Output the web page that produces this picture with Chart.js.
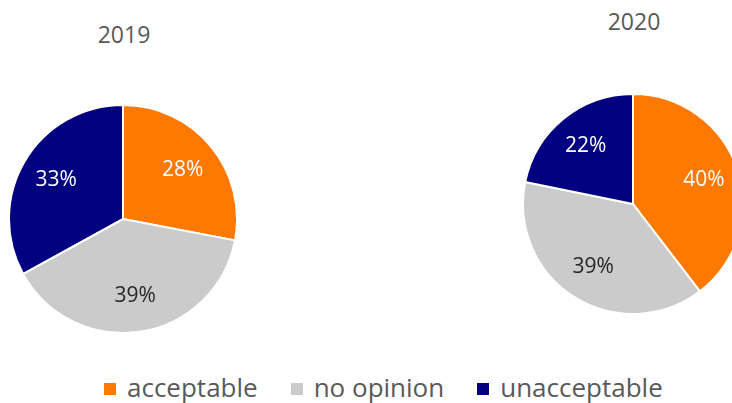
<!DOCTYPE html>
<html>
<head>
<meta charset="utf-8">
<script src="https://cdn.jsdelivr.net/npm/chart.js@4"></script>
<style>
  html, body { margin: 0; padding: 0; background: #fff; overflow: hidden; }
  body { width: 732px; height: 403px; position: relative; font-family: "Open Sans", sans-serif; }
  .title { position: absolute; width: 200px; text-align: center; font-size: 23px; color: #595959; }
  canvas { position: absolute; }
  #legend { position: absolute; left: 104px; top: 369px; display: flex; gap: 33px; font-size: 26px; color: #595959; white-space: nowrap; }
  #legend span.box { display: inline-block; width: 12px; height: 12px; margin-right: 11px; vertical-align: 2px; }
</style>
</head>
<body>
<div class="title" style="left:24px; top:18px;">2019</div>
<div class="title" style="left:534px; top:5px;">2020</div>
<canvas id="pie2019" width="230" height="230" style="left:8px; top:104px;"></canvas>
<canvas id="pie2020" width="222" height="222" style="left:522px; top:93px;"></canvas>
<div id="legend"></div>
<script>
// categories and shares (percent)
const categories = ['acceptable', 'no opinion', 'unacceptable'];
const colors = ['#FF7800', '#CBCBCB', '#000080'];
const labelColors = ['#FFFFFF', '#262626', '#FFFFFF'];
const values2019 = [28, 39, 33];
const values2020 = [40, 39, 22];

// draws "NN%" inside each slice, a bit past the middle of the radius
const sliceLabels = {
    id: 'sliceLabels',
    afterDatasetsDraw(chart) {
        const ctx = chart.ctx;
        const meta = chart.getDatasetMeta(0);
        const data = chart.data.datasets[0].data;
        ctx.save();
        ctx.font = '21px "Open Sans", sans-serif';
        ctx.textAlign = 'center';
        ctx.textBaseline = 'middle';
        meta.data.forEach((arc, i) => {
            const p = arc.getProps(['x', 'y', 'startAngle', 'endAngle', 'outerRadius'], true);
            const mid = (p.startAngle + p.endAngle) / 2;
            const r = p.outerRadius * 0.68;
            ctx.fillStyle = labelColors[i];
            ctx.fillText(data[i] + '%', p.x + Math.cos(mid) * r, p.y + Math.sin(mid) * r);
        });
        ctx.restore();
    }
};

function makePie(canvasId, values) {
    const canvas = document.getElementById(canvasId);
    return new Chart(canvas.getContext('2d'), {
        type: 'pie',
        data: {
            labels: categories,
            datasets: [{
                data: values,
                backgroundColor: colors,
                borderColor: '#FFFFFF',
                borderWidth: 2
            }]
        },
        options: {
            responsive: false,
            animation: false,
            layout: { padding: 0 },
            plugins: {
                legend: { display: false },
                tooltip: { enabled: false }
            }
        },
        plugins: [sliceLabels]
    });
}

makePie('pie2019', values2019);
makePie('pie2020', values2020);

// shared legend under both pies
const legend = document.getElementById('legend');
categories.forEach((name, i) => {
    const item = document.createElement('div');
    const box = document.createElement('span');
    box.className = 'box';
    box.style.background = colors[i];
    item.appendChild(box);
    item.appendChild(document.createTextNode(name));
    legend.appendChild(item);
});
</script>
</body>
</html>
